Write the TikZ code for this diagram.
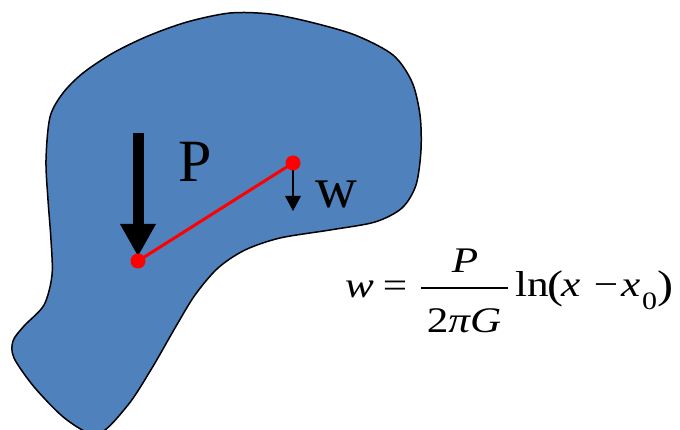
\documentclass[tikz,border=0pt]{standalone}
\usepackage{fontspec}
\setmainfont{Liberation Serif}
\newfontfamily\eqfont[FakeStretch=1.2]{Liberation Serif}
\usetikzlibrary{arrows.meta}
\definecolor{bodyblue}{RGB}{79,129,189}
\begin{document}
\begin{tikzpicture}[x=1pt,y=-1pt,
  lbl/.style={inner sep=0pt, font=\fontsize{60}{72}\selectfont},
  eq/.style={inner sep=0pt, font=\eqfont\fontsize{36}{42}\selectfont},
  eqpar/.style={inner sep=0pt, font=\eqfont\fontsize{40}{48}\selectfont},
  eqsub/.style={inner sep=0pt, font=\eqfont\fontsize{25}{30}\selectfont},
  dotred/.style={circle, fill=red, inner sep=0pt, minimum size=15pt},
  body/.style={fill=bodyblue, draw=black, line width=1.5pt},
  redline/.style={draw=red, line width=3pt},
  bigarrow/.style={line width=11pt, -{Triangle[width=36pt,length=32pt,line width=0pt]}},
  smallarrow/.style={line width=1.5pt, -{Triangle[width=16pt,length=15pt,line width=0pt]}}
]
\useasboundingbox (0,0) rectangle (680,430);
% body
\path[body] plot[smooth cycle] coordinates {
  (230,13) (270,14) (310,22) (355,35) (393,55) (412,82) (420,115) (421,150)
  (416,185) (402,208) (375,222) (330,230) (280,238) (245,250) (218,268)
  (195,295) (175,328) (152,368) (128,405) (98,434) (67,420) (35,388)
  (14,358) (13,341) (24,326) (44,305) (52,275) (51,240) (48,200)
  (46,160) (50,117) (63,93) (83,73) (113,53) (148,36) (187,22)};
% points
\coordinate (Pc) at (138,261);
\coordinate (Wc) at (293,163);
\coordinate (Ptop) at (138,133);
\coordinate (Wtip) at (293,211);
\draw[redline] (Pc) -- (Wc);
\draw[bigarrow, shorten >=5pt] (Ptop) -- (Pc);
\draw[smallarrow] (Wc) -- (Wtip);
\node[dotred] (Pdot) at (Pc) {};
\node[dotred] (Wdot) at (Wc) {};
% labels
\node[lbl, anchor=base west] (Plbl) at (178,182) {P};
\node[lbl, anchor=base west, font=\fontsize{58}{70}\selectfont] (wlbl) at (315,208) {w};
% equation
\node[eq, anchor=base west] (eqw) at (345,298) {\itshape w};
\node[eq, anchor=base] (eqeq) at (395,298) {=};
\coordinate (barL) at (421,288);
\coordinate (barR) at (508,288);
\draw[line width=1.5pt] (barL) -- (barR);
\node[eq, anchor=base] (eqnum) at (465,273) {\itshape P};
\node[eq, anchor=base] (eqden) at (464,333) {2\itshape πG};
\node[eq, anchor=base west] (eqln) at (515,297) {ln};
\node[eqpar, anchor=base west] (eqlp) at (547,299) {(};
\node[eq, anchor=base west] (eqx) at (561,297) {\itshape x};
\node[eq, anchor=base] (eqminus) at (606,297) {−};
\node[eq, anchor=base west] (eqx0) at (621,297) {\itshape x};
\node[eqsub, anchor=base west] (eqsub0) at (642,310) {0};
\node[eqpar, anchor=base west] (eqrp) at (657,299) {)};
\end{tikzpicture}
\end{document}
